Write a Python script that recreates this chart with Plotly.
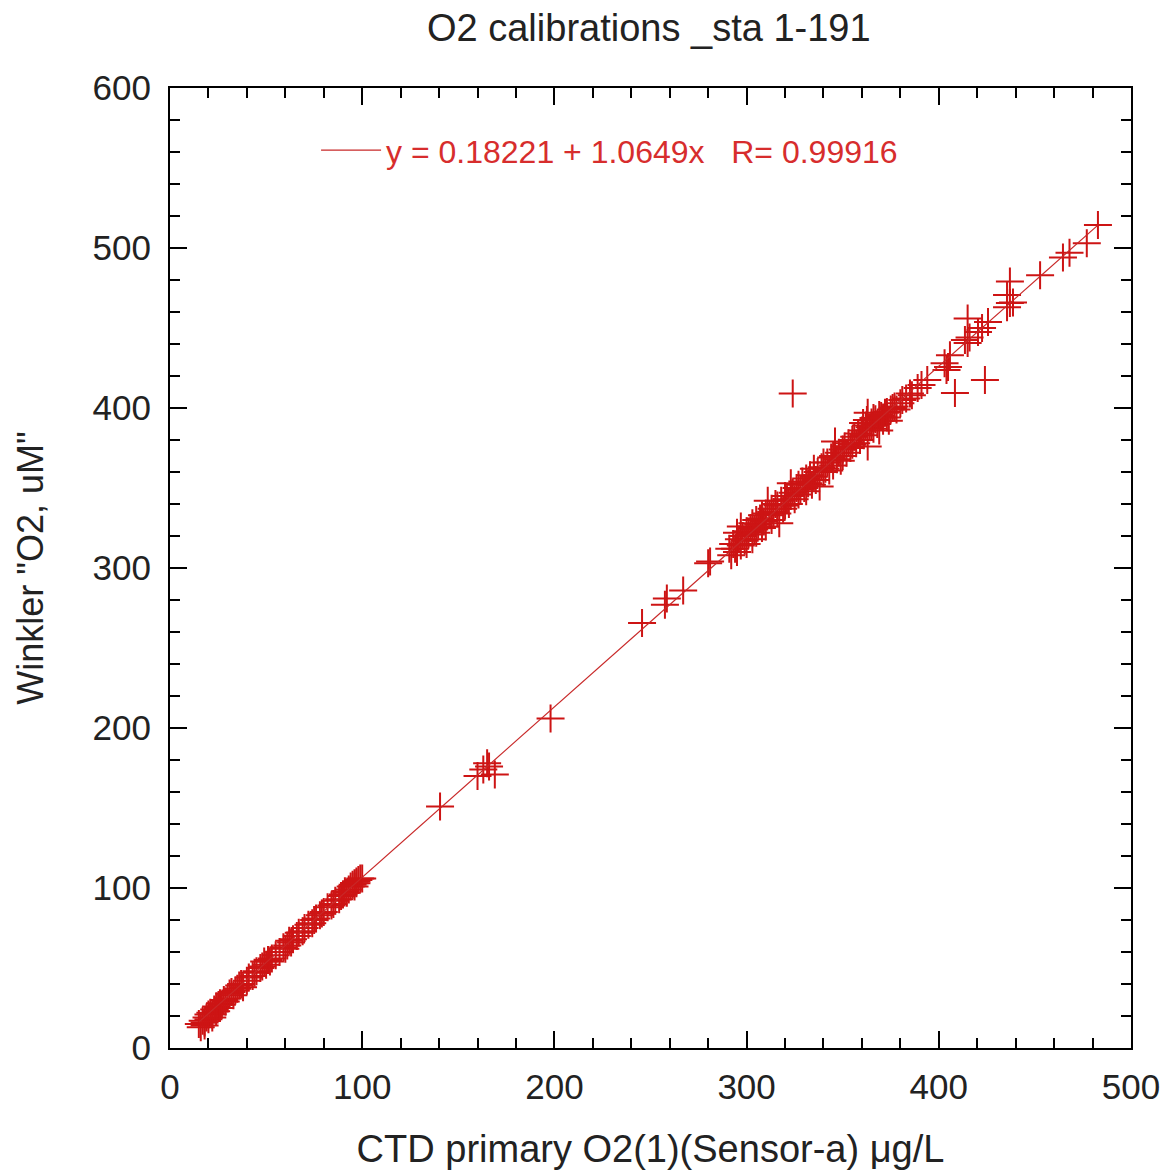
import plotly.graph_objects as go

# ---- data ----
ctd_o2 = [
    15, 16, 17, 18, 18, 19, 20, 20, 21, 22, 22, 23, 24, 24, 25, 26, 26, 27, 28, 29,
    30, 31, 32, 33, 34, 35, 36, 37, 38, 40, 41, 43, 44, 45, 47, 48, 49, 50, 51, 52,
    53, 55, 57, 59, 60, 61, 62, 63, 64, 66, 67, 69, 70, 72, 74, 75, 76, 78, 79, 80,
    82, 84, 85, 86, 88, 89, 90, 91, 92, 93, 94, 95, 96, 96, 97, 97, 98, 99, 100,
    140.5, 160, 163, 165, 166, 169, 198, 245.6, 257.5, 258.5, 267, 280, 281, 324,
    291, 292, 293, 294, 295, 295, 296, 297, 297, 298, 299, 300, 300, 301, 302, 303,
    303, 304, 305, 305, 306, 307, 308, 308, 309, 310, 310, 311, 312, 313, 313, 314,
    315, 316, 316, 317, 318, 319, 320, 320, 321, 322, 323, 323, 324, 325, 326, 327,
    327, 328, 329, 330, 331, 331, 332, 333, 334, 335, 335, 336, 337, 338, 339, 340,
    340, 341, 342, 343, 344, 345, 345, 346, 347, 348, 349, 350, 350, 351, 352, 353,
    354, 355, 355, 356, 357, 358, 359, 360, 361, 362, 363, 363, 364, 365, 366, 367,
    368, 369, 370, 371, 372, 373, 374, 375, 377,
    360.6, 362.6, 365, 366, 369, 371, 373, 376, 378, 380, 381, 383, 385, 386, 389,
    391, 394, 403, 404, 404.8, 405.8, 408.4, 413.6, 415, 415, 416, 420.4, 422.5, 424,
    425.6, 435.5, 435.5, 437, 437, 438.6, 452.7, 464.6, 468, 477, 482.8,
]
winkler_o2 = [
    15, 13, 17, 16, 14, 19, 18, 21, 22, 21, 19, 24, 23, 26, 25, 28, 25, 27, 30, 29,
    31, 34, 35, 33, 36, 37, 39, 40, 38, 42, 44, 45, 47, 48, 50, 51, 54, 52, 55, 54,
    56, 58, 60, 63, 62, 64, 67, 66, 68, 70, 72, 73, 75, 77, 78, 80, 81, 83, 84, 85,
    88, 89, 90, 92, 93, 95, 96, 98, 97, 99, 101, 102, 103, 101, 104, 103, 105, 106, 106,
    151, 170, 174, 178, 176, 171, 206, 265.6, 277, 281, 286, 303, 304, 409,
    312, 308, 315, 312, 322, 310, 318, 326, 314, 320, 317, 323, 315, 321, 325, 318,
    328, 324, 330, 322, 327, 331, 325, 333, 329, 334, 326, 342, 333, 337, 330, 335,
    340, 334, 339, 328, 342, 337, 345, 339, 343, 340, 353, 345, 347, 343, 350, 346,
    352, 349, 354, 350, 356, 348, 353, 358, 352, 357, 362, 355, 360, 351, 363, 360,
    366, 362, 366, 361, 369, 364, 370, 379, 368, 372, 367, 374, 370, 376, 372, 378,
    375, 380, 377, 382, 378, 384, 380, 386, 383, 389, 376, 397, 388, 391, 387, 393,
    390, 386, 395, 392, 397, 394, 392, 399, 401,
    390.6, 392.5, 389, 393.7, 395.6, 394, 397.5, 400, 399, 403, 405, 406, 409, 408, 412.5,
    414.4, 417.5, 428, 423.7, 425.6, 433, 409.4, 442.5, 440.6, 456, 444, 447.5, 450, 417.5,
    453.7, 463, 470.6, 465.6, 479, 466, 483, 494, 497, 503, 514.4,
]

fit_intercept = 0.18221
fit_slope = 1.0649
fit_r = 0.99916
fit_x = [min(ctd_o2), max(ctd_o2)]
fit_y = [fit_intercept + fit_slope * v for v in fit_x]

title_text = "O2 calibrations _sta 1-191"
x_title = "CTD primary O2(1)(Sensor-a) \u03bcg/L"
y_title = 'Winkler "O2, uM"'
fit_label = f"y = {fit_intercept} + {fit_slope}x   R= {fit_r}"

FONT = "Liberation Sans, Arial, sans-serif"
RED = "rgb(205,20,20)"
TXT = "#222"

fig = go.Figure()
fig.add_trace(go.Scatter(
    x=ctd_o2, y=winkler_o2, mode="markers", showlegend=False,
    marker=dict(symbol="cross-thin", size=20, line=dict(color=RED, width=2)),
))
fig.add_trace(go.Scatter(
    x=fit_x, y=fit_y, mode="lines", name=fit_label,
    line=dict(color="rgb(200,40,40)", width=1.2),
))

axis_common = dict(
    showline=True, linecolor="black", linewidth=2, mirror="allticks",
    ticks="inside", ticklen=17, tickwidth=2, tickcolor="black",
    showgrid=False, zeroline=False,
    tickfont=dict(family=FONT, size=35, color=TXT),
    minor=dict(ticks="inside", ticklen=10, tickwidth=1.5, tickcolor="black", dtick=20, showgrid=False),
)

fig.update_xaxes(range=[0, 500], dtick=100, tick0=0, ticklabelstandoff=7,
                 title=dict(text=x_title, font=dict(family=FONT, size=38, color=TXT), standoff=30),
                 **axis_common)
fig.update_yaxes(range=[0, 600], dtick=100, tick0=0, ticklabelstandoff=10,
                 title=dict(text=y_title, font=dict(family=FONT, size=36, color=TXT), standoff=38),
                 **axis_common)

fig.update_layout(
    width=1169, height=1176,
    margin=dict(l=170, r=38, t=88, b=128, autoexpand=False),
    paper_bgcolor="white", plot_bgcolor="white",
    title=dict(text=title_text, x=0.555, xanchor="center", y=1 - 28 / 1176, yanchor="middle",
               font=dict(family=FONT, size=38, color=TXT)),
    legend=dict(x=0.152, y=0.935, xanchor="left", yanchor="middle", bgcolor="rgba(0,0,0,0)",
                font=dict(family=FONT, size=32, color="rgb(215,45,45)"), itemwidth=60),
)

fig.write_html("out.html")
